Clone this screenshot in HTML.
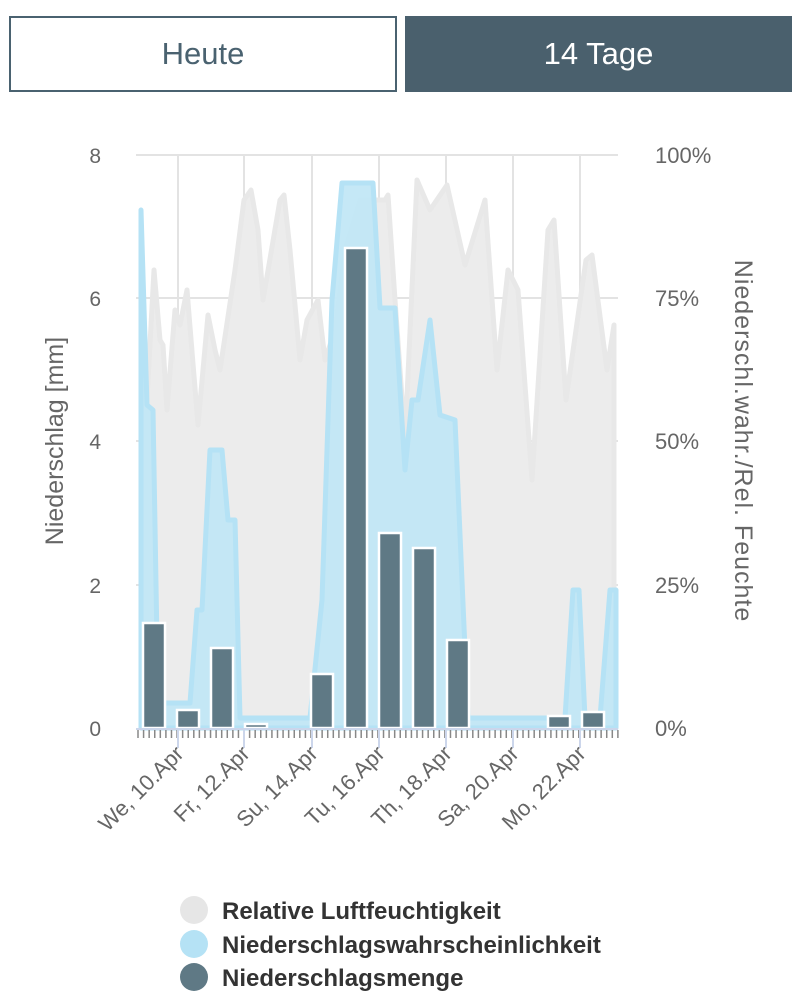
<!DOCTYPE html>
<html><head><meta charset="utf-8"><style>
body{margin:0;width:800px;height:1006px;background:#fff;font-family:"Liberation Sans",sans-serif;overflow:hidden;position:relative}
.b{position:absolute;top:16px;height:76px;box-sizing:border-box;display:flex;align-items:center;justify-content:center;font-size:31px}
</style></head><body>
<div class="b" style="left:9px;width:388px;border:2px solid #4a6270;color:#4a6270">Heute</div>
<div class="b" style="left:405px;width:387px;background:#4a606d;color:#fff">14 Tage</div>
<svg width="800" height="1006" style="position:absolute;left:0;top:0" font-family="Liberation Sans, sans-serif">
<g stroke="#e3e3e3" stroke-width="2">
<line x1="136" y1="155" x2="618" y2="155"/><line x1="136" y1="298" x2="618" y2="298"/><line x1="136" y1="441" x2="618" y2="441"/><line x1="136" y1="585" x2="618" y2="585"/>
<line x1="178" y1="155" x2="178" y2="728"/><line x1="244" y1="155" x2="244" y2="728"/><line x1="312" y1="155" x2="312" y2="728"/><line x1="379" y1="155" x2="379" y2="728"/><line x1="446" y1="155" x2="446" y2="728"/><line x1="513" y1="155" x2="513" y2="728"/><line x1="580" y1="155" x2="580" y2="728"/>
</g>
<polygon fill="#ececec" stroke="#e8e8e8" stroke-width="5" stroke-linejoin="round" points="141,728 141,240 147,400 154,270 160,340 163,345 167,410 175,310 180,325 187,290 198,425 208,315 215,350 220,370 232,290 235,270 244,200 251,190 258,230 263,300 280,200 284,195 290,250 300,360 307,320 318,300 325,360 335,330 345,250 360,200 385,200 388,195 395,300 405,440 417,180 430,210 447,185 465,265 485,200 497,370 508,270 518,290 532,480 548,230 554,220 566,400 586,260 592,255 607,370 614,325 614,728"/>
<polygon fill="#c2e7f5" fill-opacity="0.95" stroke="#b5e2f5" stroke-width="5" stroke-linejoin="round" points="141,728 141,210 147,405 153,410 158,700 165,703 190,703 197,610 202,610 210,450 222,450 228,520 235,520 240,718 310,718 322,600 332,300 342,183 373,183 380,308 395,308 405,470 412,400 418,400 430,320 440,415 455,420 468,718 565,718 573,590 579,590 585,718 600,718 610,590 616,590 616,728"/>
<g fill="#5f7985" stroke="#fff" stroke-width="2.5">
<rect x="143" y="623" width="22" height="105"/><rect x="177" y="710" width="22" height="18"/><rect x="211" y="648" width="22" height="80"/><rect x="245" y="724" width="22" height="4"/><rect x="311" y="674" width="22" height="54"/><rect x="345" y="248" width="22" height="480"/><rect x="379" y="533" width="22" height="195"/><rect x="413" y="548" width="22" height="180"/><rect x="447" y="640" width="22" height="88"/><rect x="548" y="716" width="22" height="12"/><rect x="582" y="712" width="22" height="16"/>
</g>
<line x1="136" y1="729" x2="618" y2="729" stroke="#ccd6eb" stroke-width="2"/>
<g stroke="#888" stroke-width="1.5" id="t"></g>
<g stroke="#ccd6eb" stroke-width="2">
<line x1="178" y1="729" x2="178" y2="748"/><line x1="244" y1="729" x2="244" y2="748"/><line x1="312" y1="729" x2="312" y2="748"/><line x1="379" y1="729" x2="379" y2="748"/><line x1="446" y1="729" x2="446" y2="748"/><line x1="513" y1="729" x2="513" y2="748"/><line x1="580" y1="729" x2="580" y2="748"/>
</g>
<g fill="#666" font-size="21" text-anchor="end">
<text x="101" y="163">8</text><text x="101" y="306">6</text><text x="101" y="449">4</text><text x="101" y="593">2</text><text x="101" y="736">0</text>
</g>
<g fill="#666" font-size="22">
<text x="655" y="163">100%</text><text x="655" y="306">75%</text><text x="655" y="449">50%</text><text x="655" y="593">25%</text><text x="655" y="736">0%</text>
</g>
<text transform="translate(63,441) rotate(-90)" text-anchor="middle" fill="#666" font-size="25">Niederschlag [mm]</text>
<text transform="translate(735,441) rotate(90)" text-anchor="middle" fill="#666" font-size="25" letter-spacing="1">Niederschl.wahr./Rel. Feuchte</text>
<g fill="#666" font-size="22" text-anchor="end">
<text transform="translate(185,755) rotate(-45)">We, 10.Apr</text>
<text transform="translate(251,755) rotate(-45)">Fr, 12.Apr</text>
<text transform="translate(319,755) rotate(-45)">Su, 14.Apr</text>
<text transform="translate(386,755) rotate(-45)">Tu, 16.Apr</text>
<text transform="translate(453,755) rotate(-45)">Th, 18.Apr</text>
<text transform="translate(520,755) rotate(-45)">Sa, 20.Apr</text>
<text transform="translate(587,755) rotate(-45)">Mo, 22.Apr</text>
</g>
<circle cx="194" cy="910" r="14" fill="#e6e6e6"/><circle cx="194" cy="944" r="14" fill="#b5e2f5"/><circle cx="194" cy="977" r="14" fill="#5f7985"/>
<g fill="#333" font-size="24" font-weight="bold">
<text x="222" y="919">Relative Luftfeuchtigkeit</text><text x="222" y="953">Niederschlagswahrscheinlichkeit</text><text x="222" y="986">Niederschlagsmenge</text>
</g>
</svg>
<script>
var g=document.getElementById('t'),s='';for(var x=138;x<618;x+=5.58){s+='<line x1="'+x+'" y1="730" x2="'+x+'" y2="738"/>';}g.innerHTML=s;
</script>
</body></html>
